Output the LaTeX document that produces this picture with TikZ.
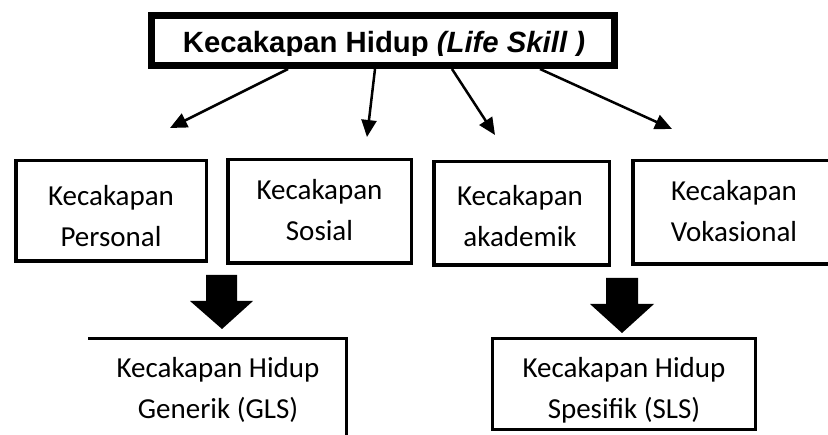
\documentclass[tikz,border=0pt]{standalone}
\usepackage{fontspec}
\setmainfont{Carlito}
\newfontfamily\arialfont{Liberation Sans}
\usetikzlibrary{arrows.meta}
\begin{document}
\begin{tikzpicture}[x=1pt,y=-1pt,
  box/.style={draw, line width=3.5pt, inner sep=0pt},
  lbl/.style={font=\fontsize{29}{41}\selectfont, align=center, inner sep=0pt},
  thinarrow/.style={line width=2.5pt, -{Triangle[length=17pt,width=15pt]}},
  bigarrow/.style={fill=black, draw=none}]
\useasboundingbox (0,0) rectangle (828,435);
\clip (0,0) rectangle (828,435);

% top box
\node[draw, line width=6.5pt, minimum width=463pt, minimum height=50pt, inner sep=0pt] (top) at (383,40.5) {};
\begin{scope}
  \clip (155,19) rectangle (611,56);
  \node[font=\arialfont\bfseries\fontsize{29.3}{35}\selectfont, anchor=base, inner sep=0pt] (toptext) at (384,53) {Kecakapan Hidup \textit{(Life Skill )}};
\end{scope}

% second row boxes
\node[box, minimum width=190.5pt, minimum height=100.5pt] (b1) at (111,211) {};
\node[box, minimum width=183.5pt, minimum height=103.5pt] (b2) at (319.5,211.5) {};
\node[box, minimum width=175.5pt, minimum height=103.5pt] (b3) at (521.5,213.5) {};
\node[box, minimum width=205.5pt, minimum height=103.5pt] (b4) at (735.5,212.5) {};

\node[lbl] (t1) at (111,216) {Kecakapan\\Personal};
\node[lbl] (t2) at (319.5,210) {Kecakapan\\Sosial};
\node[lbl] (t3) at (520,216) {Kecakapan\\akademik};
\node[lbl] (t4) at (734,211) {Kecakapan\\Vokasional};

% thin arrows
\coordinate (s1) at (288,69);  \coordinate (e1) at (170,128);
\coordinate (s2) at (375,69);  \coordinate (e2) at (367,137);
\coordinate (s3) at (452,69);  \coordinate (e3) at (495,135);
\coordinate (s4) at (540,69);  \coordinate (e4) at (672,129);
\draw[thinarrow] (s1) -- (e1);
\draw[thinarrow] (s2) -- (e2);
\draw[thinarrow] (s3) -- (e3);
\draw[thinarrow] (s4) -- (e4);

% big block arrows
\fill[bigarrow] (206,275) -- (237,275) -- (237,301) -- (253,301) -- (222,329) -- (190,301) -- (206,301) -- cycle;
\fill[bigarrow] (606,278) -- (638,278) -- (638,304) -- (654,304) -- (622,333) -- (590,304) -- (606,304) -- cycle;

% bottom left box (open at left and bottom)
\coordinate (glsL) at (88,338.5);
\coordinate (glsR) at (346.5,338.5);
\coordinate (glsB) at (346.5,440);
\draw[line width=3pt] (glsL) -- (glsR) -- (glsB);
\node[lbl] (gls) at (218,390) {Kecakapan Hidup\\Generik (GLS)};

% bottom right box
\node[draw, line width=3pt, minimum width=263pt, minimum height=91pt, inner sep=0pt] (slsbox) at (624,384.5) {};
\node[lbl] (sls) at (624,390) {Kecakapan Hidup\\Spesifik (SLS)};
\end{tikzpicture}
\end{document}
